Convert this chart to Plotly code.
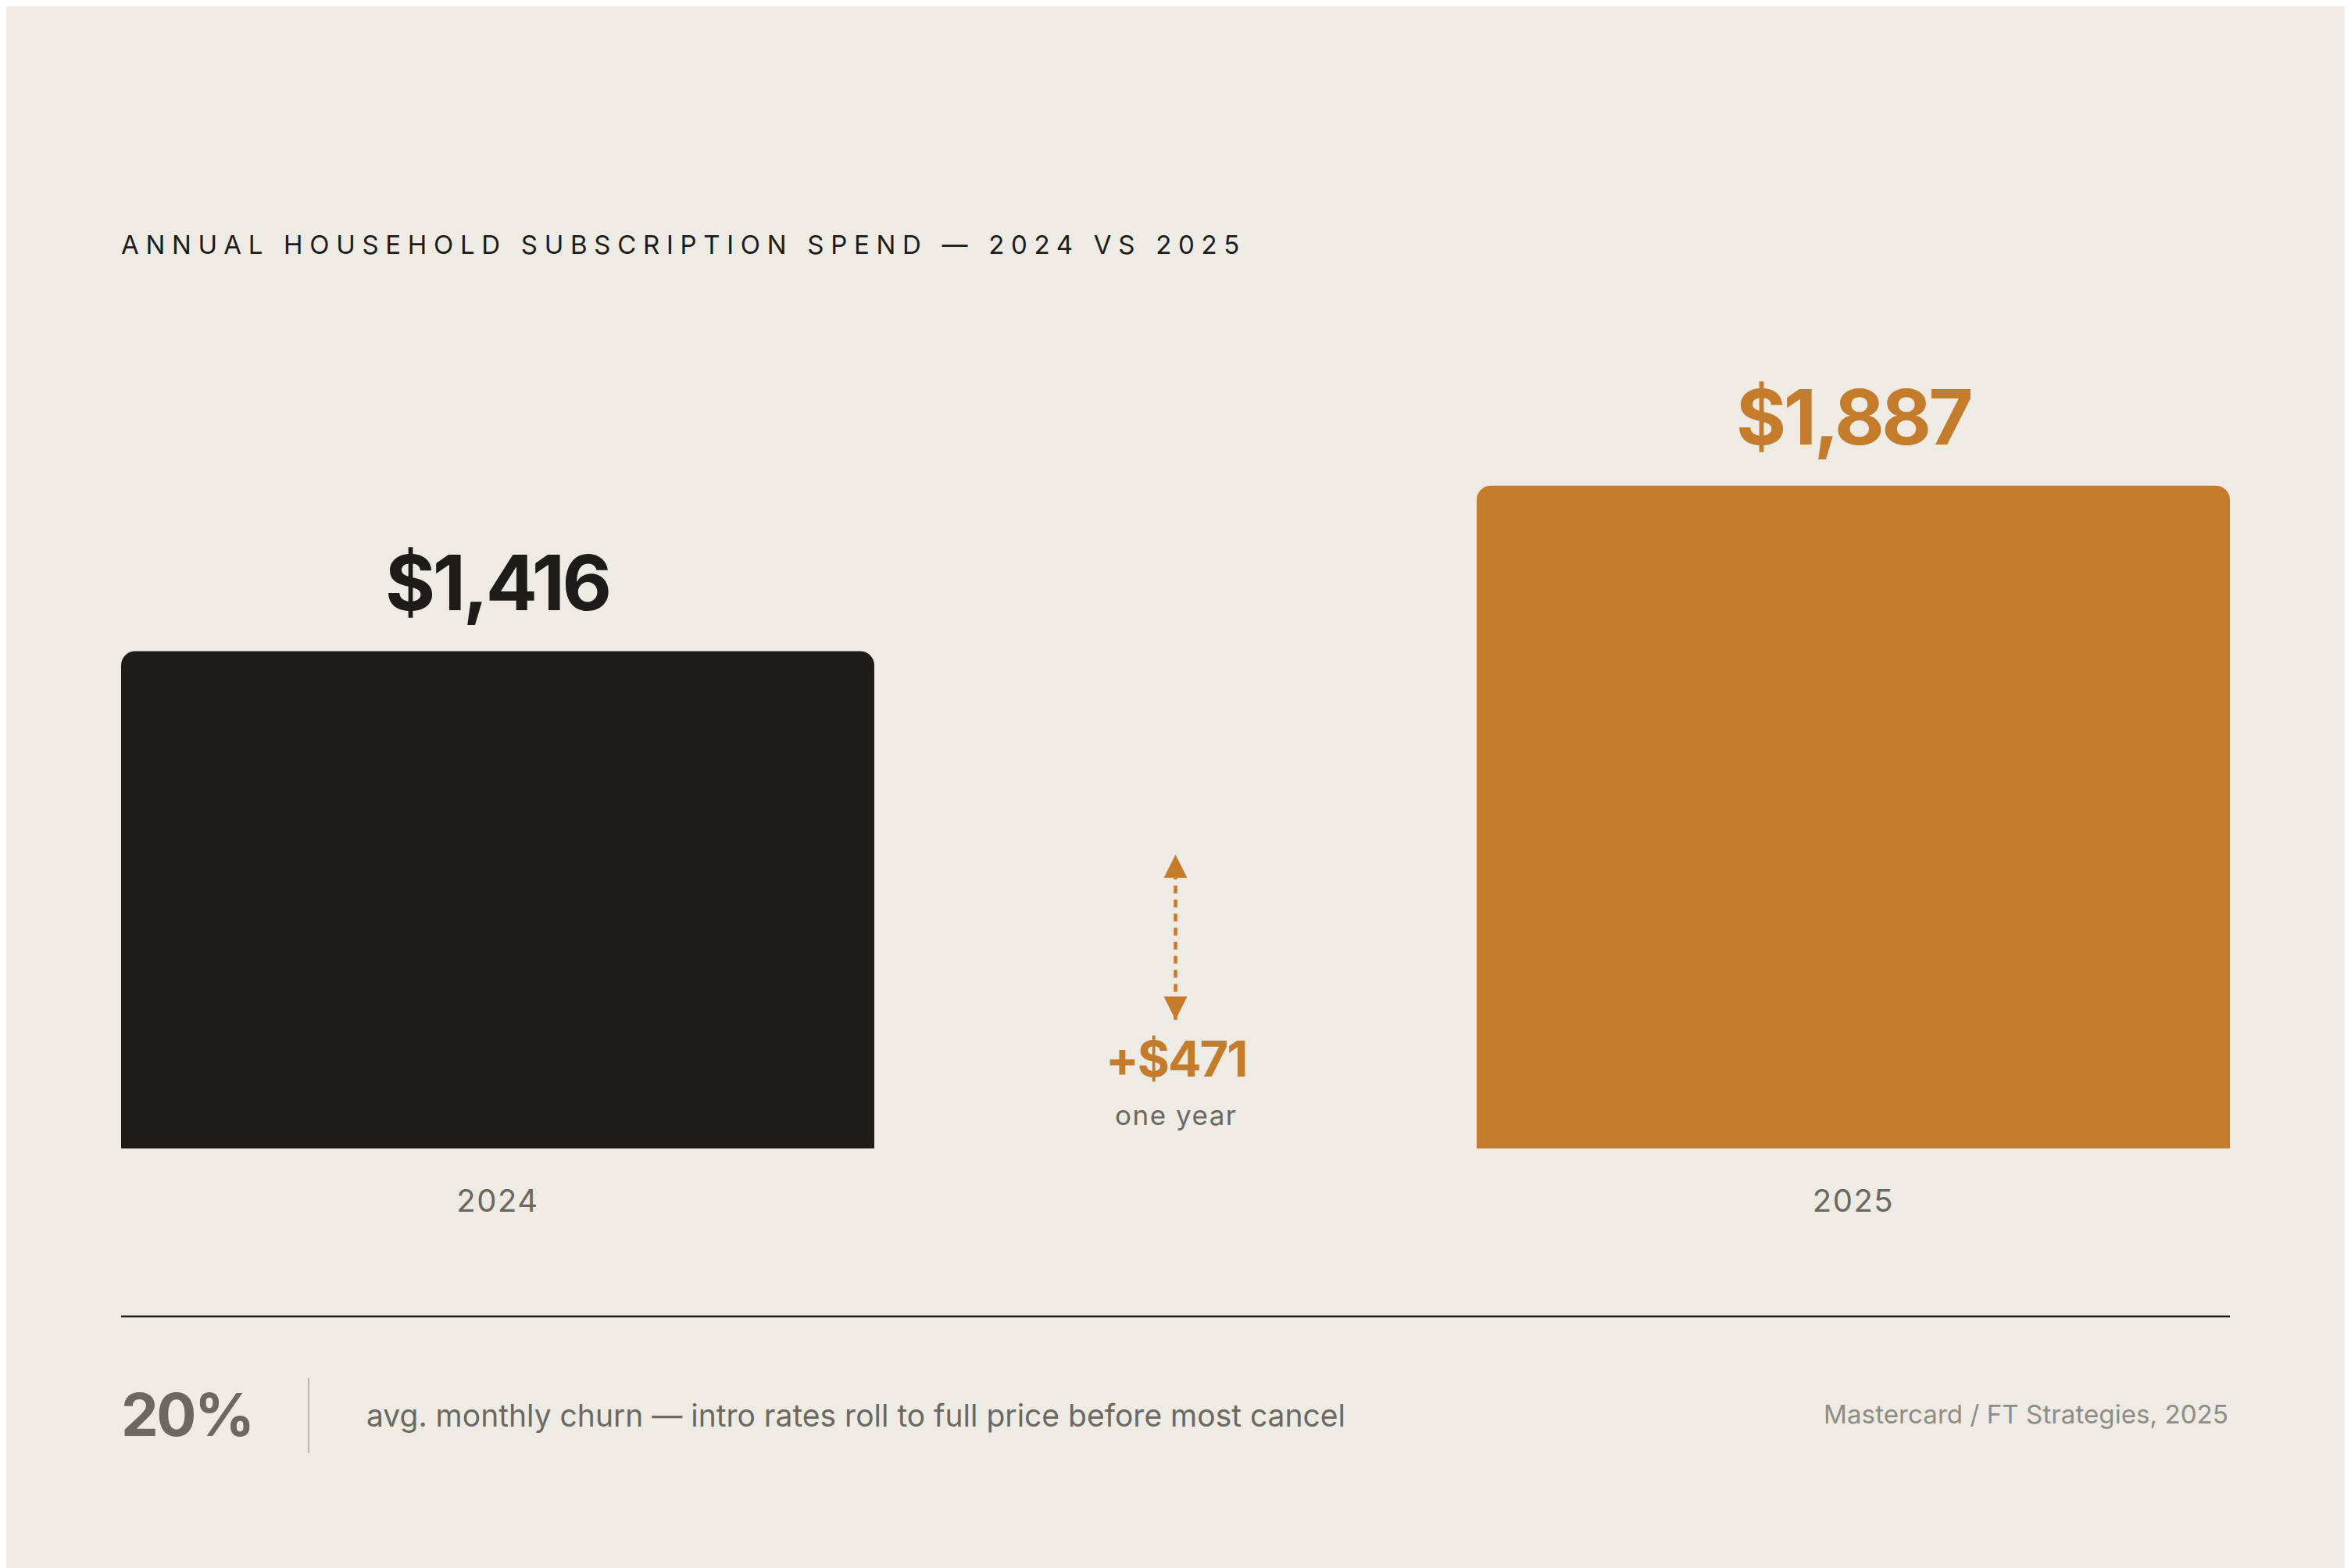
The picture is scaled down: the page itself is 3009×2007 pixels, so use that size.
import plotly.graph_objects as go

# data
years = ["2024", "2025"]
spend = [1416, 1887]
value_labels = ["$1,416", "$1,887"]
change_label = "+$471"
change_note = "one year"
churn_value = "20%"
churn_note = "avg. monthly churn — intro rates roll to full price before most cancel"
source = "Mastercard / FT Strategies, 2025"
title = "ANNUAL HOUSEHOLD SUBSCRIPTION SPEND — 2024 VS 2025"

change = spend[1] - spend[0]

BG = "#eeebe4"
INK = "#1d1c19"
ORANGE = "#c47c2b"
GREY = "#6b6862"
LIGHT = "#8f8b85"
FONT = "Inter"

bar_colors = [INK, ORANGE]
pos = list(range(len(years)))
mid = sum(pos) / len(pos)

fig = go.Figure()

fig.add_trace(go.Bar(
    x=pos, y=spend, width=0.5556,
    marker=dict(color=bar_colors, line_width=0, cornerradius=18),
    hoverinfo="skip",
))

# dashed double arrow showing the change
arrow_base = 366
fig.add_trace(go.Scatter(
    x=[mid, mid], y=[arrow_base, arrow_base + change],
    mode="lines+markers",
    line=dict(color=ORANGE, width=4.5, dash="10px,8px"),
    marker=dict(symbol=["arrow-down", "arrow-up"], size=30, color=ORANGE),
    hoverinfo="skip",
))

ann = []
for p, v, lab, c in zip(pos, spend, value_labels, bar_colors):
    ann.append(dict(
        x=p, y=v, xref="x", yref="y", yshift=88, yanchor="middle",
        text=f"<span style='letter-spacing:-3.5px'>{lab}</span>", showarrow=False,
        font=dict(family=FONT, size=98, color=c, weight=700),
    ))

ann.append(dict(
    x=mid, y=arrow_base, xref="x", yref="y", yshift=-50, yanchor="middle",
    text=f"<span style='letter-spacing:-2px'>{change_label}</span>", showarrow=False,
    font=dict(family=FONT, size=63, color=ORANGE, weight=700),
))
ann.append(dict(
    x=mid, y=arrow_base, xref="x", yref="y", yshift=-122, yanchor="middle",
    text=f"<span style='letter-spacing:1.5px'>{change_note}</span>", showarrow=False,
    font=dict(family=FONT, size=35, color=GREY),
))

# footer
ann.append(dict(
    x=0, y=0, xref="paper", yref="paper", yshift=-340, xshift=-2,
    xanchor="left", yanchor="middle",
    text=f"<span style='letter-spacing:-2.5px'>{churn_value}</span>", showarrow=False,
    font=dict(family=FONT, size=76, color=GREY, weight=700),
))
ann.append(dict(
    x=0, y=0, xref="paper", yref="paper", xshift=312, yshift=-341,
    xanchor="left", yanchor="middle",
    text=churn_note, showarrow=False,
    font=dict(family=FONT, size=39, color=GREY),
))
ann.append(dict(
    x=1, y=0, xref="paper", yref="paper", yshift=-340, xanchor="right", yanchor="middle",
    text=source, showarrow=False,
    font=dict(family=FONT, size=33.2, color=LIGHT),
))

shapes = [
    dict(type="line", xref="paper", x0=0, x1=1, yref="paper", ysizemode="pixel",
         yanchor=0, y0=-215, y1=-215, line=dict(color=INK, width=2.5)),
    dict(type="line", xref="paper", x0=0.0889, x1=0.0889, yref="paper", ysizemode="pixel",
         yanchor=0, y0=-294, y1=-390, line=dict(color="#bab6ae", width=2)),
]

fig.update_layout(
    width=3009, height=2007,
    paper_bgcolor=BG, plot_bgcolor=BG,
    margin=dict(l=147, r=163, t=392, b=545),
    showlegend=False,
    hovermode=False,
    title=dict(
        text=f"<span style='letter-spacing:8.7px'>{title}</span>",
        x=0, xref="paper", xanchor="left",
        y=1 - 305 / 2007, yref="container", yanchor="middle",
        font=dict(family=FONT, size=33, color=INK),
    ),
    xaxis=dict(
        range=[-0.2778, 1.2778], tickvals=pos,
        ticktext=[f"<span style='letter-spacing:1.5px'>{y}</span>" for y in years],
        showgrid=False, zeroline=False, showline=False, ticks="",
        ticklabelstandoff=40, automargin=False,
        tickfont=dict(family=FONT, size=40, color=GREY),
    ),
    yaxis=dict(
        range=[0, 2380], visible=False, showgrid=False, zeroline=False,
        automargin=False,
    ),
    annotations=ann,
    shapes=shapes,
)

fig.write_html("out.html")
